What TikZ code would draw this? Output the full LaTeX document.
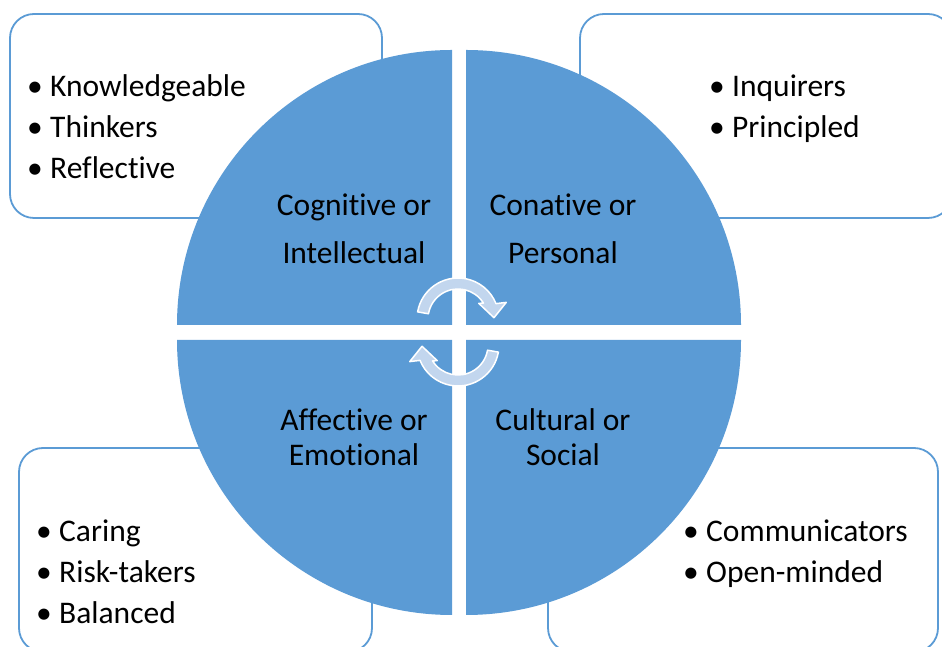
\documentclass[tikz,border=0pt]{standalone}
\usepackage{fontspec}
\setmainfont{Carlito}[Ligatures=NoCommon]
\definecolor{quadblue}{HTML}{5B9BD5}
\definecolor{swirlfill}{HTML}{C2D6EE}
\tikzset{
  quad/.style={fill=quadblue},
  listbox/.style={draw=quadblue, line width=1.8pt, fill=white, rounded corners=24pt},
  trait/.style={anchor=base west, inner sep=0pt, font=\fontsize{31.5}{38}\selectfont},
  facet/.style={anchor=base, inner sep=0pt, font=\fontsize{31.5}{38}\selectfont},
  swirl/.style={fill=swirlfill, draw=white, line width=1.5pt, line join=round},
}
\newcommand{\bul}{\makebox[23pt][l]{\textbullet}}
% half-turn arrow: #1 centre, #2 extra turn
\newcommand{\turnarrow}[2]{%
  \filldraw[swirl, shift={#1}]
    (170+#2:41) arc[start angle=170+#2, end angle=22+#2, radius=41pt]
    -- (19+#2:51) -- (2+#2:36) -- (37+#2:26) -- (32+#2:30)
    arc[start angle=32+#2, end angle=170+#2, radius=30pt] -- cycle;}
\begin{document}
\begin{tikzpicture}[x=1pt,y=1pt]
  \useasboundingbox (0,0) rectangle (942,647);
  \clip (0,0) rectangle (942,647);
  % corner boxes
  \draw[listbox] (10,429) rectangle (382,633);
  \draw[listbox] (580,429) rectangle (952,633);
  \draw[listbox] (19,-5) rectangle (372,199);
  \draw[listbox] (548,-5) rectangle (938,199);
  % the four quarters
  \fill[quad] (452,322) -- (177,322) arc[start angle=180, end angle=90, radius=275pt] -- cycle;
  \fill[quad] (466,322) -- (741,322) arc[start angle=0, end angle=90, radius=275pt] -- cycle;
  \fill[quad] (452,307) -- (177,307) arc[start angle=180, end angle=270, radius=275pt] -- cycle;
  \fill[quad] (466,307) -- (741,307) arc[start angle=0, end angle=-90, radius=275pt] -- cycle;
  % arrows in the middle
  \turnarrow{(458,328)}{0}
  \turnarrow{(458,302)}{180}
  % quarter labels
  \node[facet] (cogA) at (354,431) {Cognitive or};
  \node[facet] (cogB) at (354,383) {Intellectual};
  \node[facet] (conA) at (563,431) {Conative or};
  \node[facet] (conB) at (563,383) {Personal};
  \node[facet] (affA) at (354,216) {Affective or};
  \node[facet] (affB) at (354,181) {Emotional};
  \node[facet] (culA) at (563,216) {Cultural or};
  \node[facet] (culB) at (563,181) {Social};
  % lists
  \node[trait] (know) at (27,550) {\bul Knowledgeable};
  \node[trait] (think) at (27,509) {\bul Thinkers};
  \node[trait] (refl) at (27,468) {\bul Reflective};
  \node[trait] (inq) at (709,550) {\bul Inquirers};
  \node[trait] (princ) at (709,509) {\bul Principled};
  \node[trait] (car) at (36,105) {\bul Caring};
  \node[trait] (risk) at (36,64) {\bul Risk-takers};
  \node[trait] (bal) at (36,23) {\bul Balanced};
  \node[trait] (comm) at (683,105) {\bul Communicators};
  \node[trait] (open) at (683,64) {\bul Open-minded};
\end{tikzpicture}
\end{document}
